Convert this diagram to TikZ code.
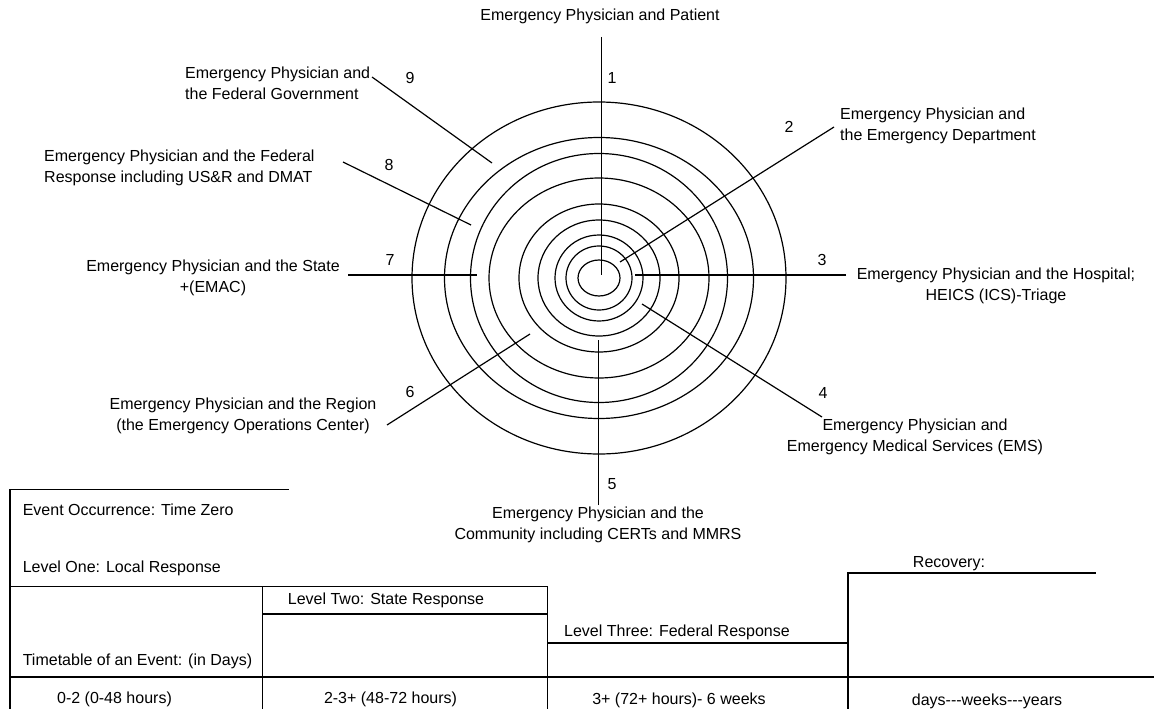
\documentclass[tikz,border=0pt]{standalone}
\usepackage{fontspec}
\setmainfont{Liberation Sans}
\usetikzlibrary{positioning}

\begin{document}
\begin{tikzpicture}[x=1pt,y=-1pt]
  \tikzset{ring line/.style={draw,line width=1.2pt},
    spoke line/.style={draw,line width=1.2pt},
    grid line/.style={draw,line width=1.2pt},
    rel text/.style={font=\fontsize{16}{21}\selectfont,inner sep=0pt},
    ring no/.style={font=\fontsize{16}{21}\selectfont,inner sep=0pt}}
  \useasboundingbox (0,0) rectangle (1154,709);
  \coordinate (C) at (599,278);
  \draw[ring line] (C) ellipse (21 and 18);
  \draw[ring line] (C) ellipse (33 and 32);
  \draw[ring line] (C) ellipse (44 and 43);
  \draw[ring line] (C) ellipse (61 and 58);
  \draw[ring line] (C) ellipse (80 and 74);
  \draw[ring line] (C) ellipse (110 and 100);
  \draw[ring line] (C) ellipse (128.5 and 124.5);
  \draw[ring line] (C) ellipse (154.5 and 140.5);
  \draw[ring line] (C) ellipse (187 and 176);
  % spokes
  \coordinate (a1) at (601.5,37);  \coordinate (b1) at (601.5,275);
  \coordinate (a2) at (834,127);   \coordinate (b2) at (620,262);
  \coordinate (a3) at (846,275);   \coordinate (b3) at (635,275);
  \coordinate (a4) at (822,417);   \coordinate (b4) at (642,304);
  \coordinate (a5) at (598.5,505); \coordinate (b5) at (598.5,340);
  \coordinate (a6) at (387,425);   \coordinate (b6) at (530,334);
  \coordinate (a7) at (348,275);   \coordinate (b7) at (477,275);
  \coordinate (a8) at (343,162);   \coordinate (b8) at (471,225);
  \coordinate (a9) at (372,77);    \coordinate (b9) at (492,163);
  \draw[spoke line] (a1) -- (b1);
  \draw[spoke line] (a2) -- (b2);
  \draw[spoke line] (a3) -- (b3);
  \draw[spoke line] (a4) -- (b4);
  \draw[spoke line] (a5) -- (b5);
  \draw[spoke line] (a6) -- (b6);
  \draw[spoke line] (a7) -- (b7);
  \draw[spoke line] (a8) -- (b8);
  \draw[spoke line] (a9) -- (b9);
  \node[ring no] (n1) at (612,78) {1};
  \node[ring no] (n2) at (789,127) {2};
  \node[ring no] (n3) at (822,260) {3};
  \node[ring no] (n4) at (823,393) {4};
  \node[ring no] (n5) at (612,484) {5};
  \node[ring no] (n6) at (410,392) {6};
  \node[ring no] (n7) at (390,260) {7};
  \node[ring no] (n8) at (389,165) {8};
  \node[ring no] (n9) at (410,78) {9};
  \node[rel text] (t1) at (600,16) {Emergency Physician and Patient};
  \node[rel text,align=left,anchor=west] (t2) at (840,126) {Emergency Physician and\\the Emergency Department};
  \node[rel text,align=center] (t3) at (996,286) {Emergency Physician and the Hospital;\\HEICS (ICS)-Triage};
  \node[rel text,align=center] (t4) at (915,437) {Emergency Physician and\\Emergency Medical Services (EMS)};
  \node[rel text,align=center] (t5) at (598,525) {Emergency Physician and the\\Community including CERTs and MMRS};
  \node[rel text,align=center] (t6) at (243,416) {Emergency Physician and the Region\\(the Emergency Operations Center)};
  \node[rel text,align=center] (t7) at (213,278) {Emergency Physician and the State\\+(EMAC)};
  \node[rel text,align=left,anchor=west] (t8) at (44,168) {Emergency Physician and the Federal\\Response including US\&R and DMAT};
  \node[rel text,align=left,anchor=west] (t9) at (185,83) {Emergency Physician and\\the Federal Government};
  % timetable
  \draw[grid line] (10,709) -- (10,489.5) -- (288.5,489.5);
  \draw[grid line] (10,586.5) -- (547.5,586.5);
  \draw[grid line] (262.6,586.5) -- (262.6,709);
  \draw[grid line] (547.5,586.5) -- (547.5,709);
  \draw[grid line] (262.6,614) -- (547.5,614);
  \draw[grid line] (547.5,643) -- (848,643);
  \draw[grid line] (848,709) -- (848,573) -- (1096,573);
  \draw[grid line] (10,677) -- (1154,677);
  \node[rel text,anchor=west] (occ) at (22.6,510) {Event Occurrence: Time Zero};
  \node[rel text,anchor=west] (lv1) at (22.6,568) {Level One: Local Response};
  \node[rel text] (lv2) at (386,600) {Level Two: State Response};
  \node[rel text] (lv3) at (677,632) {Level Three: Federal Response};
  \node[rel text] (rec) at (949,563.5) {Recovery:};
  \node[rel text,anchor=west] (tt) at (22.6,661) {Timetable of an Event: (in Days)};
  \node[rel text] (d1) at (114.5,699.5) {0-2 (0-48 hours)};
  \node[rel text] (d2) at (390.5,699.5) {2-3+ (48-72 hours)};
  \node[rel text] (d3) at (679,700) {3+ (72+ hours)- 6 weeks};
  \node[rel text] (d4) at (987,701) {days-{}-{}-weeks-{}-{}-years};
\end{tikzpicture}
\end{document}
